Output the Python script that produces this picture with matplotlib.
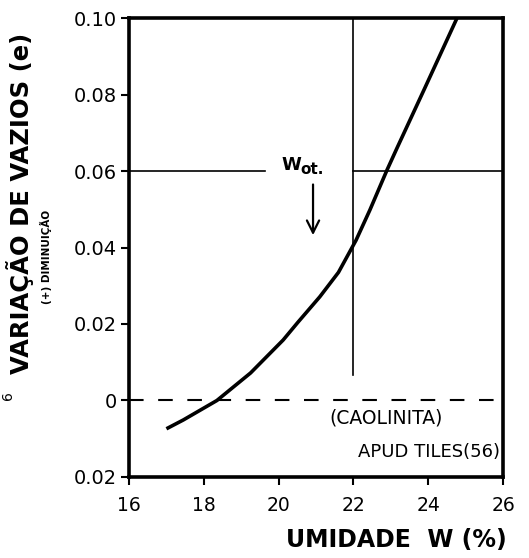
import matplotlib
matplotlib.use("Agg")
import matplotlib.pyplot as plt

# Data
umidade = [17.0, 17.45, 18.35, 19.25, 20.12, 20.52, 21.10, 21.60, 22.07, 22.44, 22.90, 23.17, 23.9, 24.77]
variacao = [-0.0074, -0.0051, 0.0, 0.0072, 0.0158, 0.0205, 0.0271, 0.0335, 0.0419, 0.0498, 0.0603, 0.0661, 0.0815, 0.100]

x_ticks = [16, 18, 20, 22, 24, 26]
x_ticklabels = ["16", "18", "20", "22", "24", "26"]
y_ticks = [0.10, 0.08, 0.06, 0.04, 0.02, 0.0, -0.02]
y_ticklabels = ["0.10", "0.08", "0.06", "0.04", "0.02", "0", "0.02"]

w_ot = 22.0
e_ref = 0.06

plt.rcParams['font.family'] = ['DejaVu Sans']

fig = plt.figure(figsize=(5.29, 5.58), dpi=100)
ax = fig.add_axes([0.2439, 0.1452, 0.9509 - 0.2439, 0.9677 - 0.1452])

ax.plot(umidade, variacao, color='black', lw=2.6, solid_capstyle='butt',
        solid_joinstyle='round')

# reference lines
ax.axhline(0, color='black', lw=1.5, ls=(0, (7, 7)))
ax.plot([16, 19.64], [e_ref, e_ref], color='black', lw=1.2)
ax.plot([w_ot, 26], [e_ref, e_ref], color='black', lw=1.2)
ax.plot([w_ot, w_ot], [0.0067, 0.10], color='black', lw=1.2)

# arrow and label
ax.annotate("", xy=(20.92, 0.0425), xytext=(20.92, 0.0572),
            arrowprops=dict(arrowstyle='->', color='black', lw=1.6,
                            mutation_scale=22))
ax.text(20.08, 0.0603, "W", fontsize=13, fontweight='bold', ha='left', va='baseline')
ax.text(20.58, 0.0593, "ot.", fontsize=11, fontweight='bold', ha='left', va='baseline')

ax.text(22.87, -0.0046, "(CAOLINITA)", fontsize=13.5, ha='center', va='center')
ax.text(25.92, -0.0135, "APUD TILES(56)", fontsize=13, ha='right', va='center')

ax.set_xlim(16, 26)
ax.set_ylim(-0.02, 0.10)
ax.set_xticks(x_ticks)
ax.set_xticklabels(x_ticklabels, fontsize=13.5)
ax.set_yticks(y_ticks)
ax.set_yticklabels(y_ticklabels, fontsize=14)
ax.tick_params(axis='x', direction='out', length=6, width=1.5, pad=8)
ax.tick_params(axis='y', direction='out', length=6, width=1.5, pad=3)

for side in ['left', 'bottom', 'top', 'right']:
    ax.spines[side].set_linewidth(2.6)

fig.text(0.958, 0.032, "UMIDADE  W (%)", fontsize=17, fontweight='bold',
         ha='right', va='center')
fig.text(0.038, 0.635, "VARIAÇÃO DE VAZIOS (e)", fontsize=17.5, fontweight='bold',
         rotation=90, ha='center', va='center')
fig.text(0.086, 0.54, "(+) DIMINUIÇÃO", fontsize=7.5, fontweight='bold',
         rotation=90, ha='center', va='center')
fig.text(0.016, 0.292, "6", fontsize=10, rotation=90, ha='center', va='center')

fig.savefig("out.png", dpi=100)
